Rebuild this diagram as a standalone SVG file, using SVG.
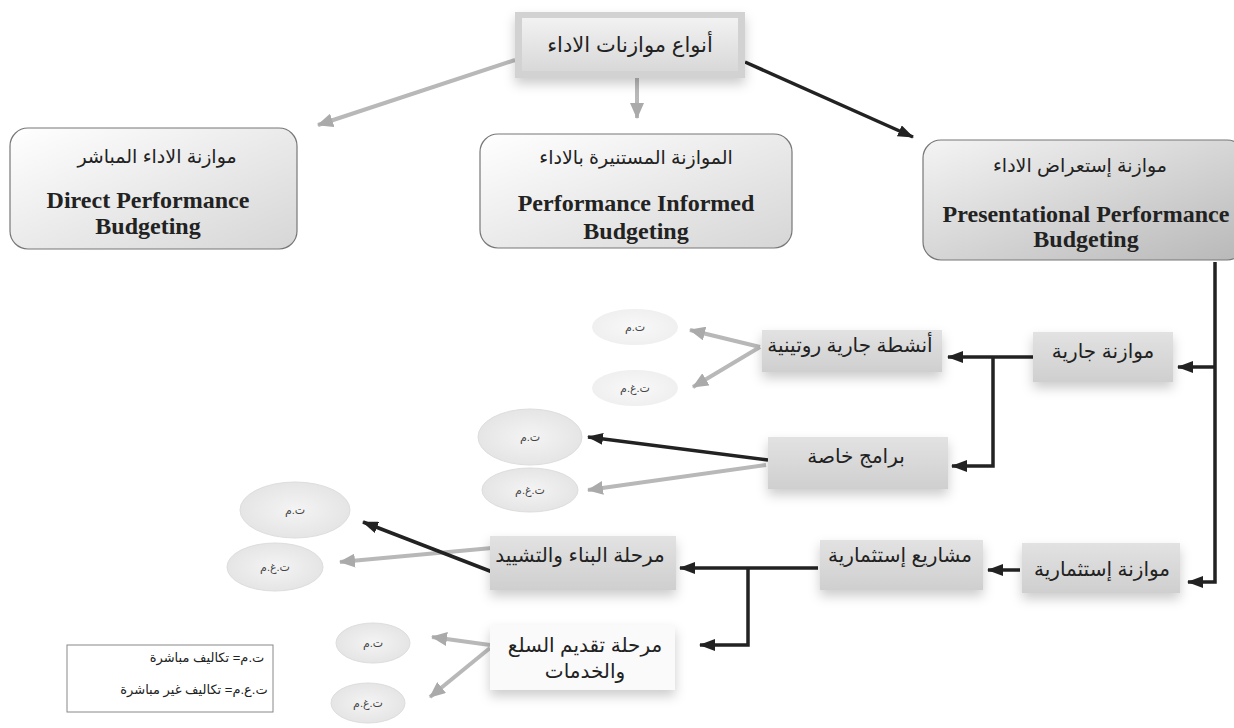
<svg xmlns="http://www.w3.org/2000/svg" width="1234" height="728" viewBox="0 0 1234 728">
<defs>
<style>
.ar{font-family:"Liberation Sans","DejaVu Sans",sans-serif;fill:#222;text-anchor:middle}
.en{font-family:"Liberation Serif",serif;font-weight:bold;fill:#222;text-anchor:middle;font-size:24px}
.big{fill:url(#gBig);stroke:#777;stroke-width:1.2}
.sub{fill:url(#gSub);filter:url(#sh)}
.ell{fill:url(#gEll);stroke:#ddd;stroke-width:1}
.et{font-family:"Liberation Sans","DejaVu Sans",sans-serif;fill:#444;font-size:11px;text-anchor:middle}
.dk{stroke:#222;stroke-width:3.5;fill:none}
.gy{stroke:#b8b8b8;stroke-width:4;fill:none}
</style>
<linearGradient id="gBig" x1="0" y1="0" x2="1" y2="1"><stop offset="0" stop-color="#ffffff"/><stop offset="1" stop-color="#d6d6d6"/></linearGradient>
<linearGradient id="gBigR" x1="0" y1="0" x2="1" y2="1"><stop offset="0" stop-color="#f4f4f4"/><stop offset="1" stop-color="#b8b8b8"/></linearGradient>
<linearGradient id="gSub" x1="0" y1="0" x2="0" y2="1"><stop offset="0" stop-color="#e2e2e2"/><stop offset="1" stop-color="#cfcfcf"/></linearGradient>
<linearGradient id="gTop" x1="0" y1="0" x2="0" y2="1"><stop offset="0" stop-color="#f2f2f2"/><stop offset="1" stop-color="#d8d8d8"/></linearGradient>
<radialGradient id="gEll" cx="0.5" cy="0.5" r="0.6"><stop offset="0" stop-color="#f4f4f4"/><stop offset="1" stop-color="#e2e2e2"/></radialGradient>
<filter id="sh" x="-20%" y="-20%" width="140%" height="160%"><feDropShadow dx="0" dy="6" stdDeviation="6" flood-color="#000" flood-opacity="0.2"/></filter>
<marker id="aD" markerUnits="userSpaceOnUse" markerWidth="16" markerHeight="12" refX="15" refY="6" orient="auto"><path d="M0,0 L16,6 L0,12 z" fill="#222"/></marker>
<marker id="aG" markerUnits="userSpaceOnUse" markerWidth="16" markerHeight="14" refX="15" refY="7" orient="auto"><path d="M0,0 L16,7 L0,14 z" fill="#aaa"/></marker>
</defs>
<rect width="1234" height="728" fill="#fff"/>

<g id="connectors">
<line class="gy" x1="515" y1="60" x2="318" y2="125" marker-end="url(#aG)"/>
<line class="gy" x1="637" y1="78" x2="637" y2="118" marker-end="url(#aG)"/>
<line class="dk" x1="745" y1="62" x2="913" y2="137" marker-end="url(#aD)"/>
<polyline class="dk" points="1215,262 1215,582 1188,582" marker-end="url(#aD)"/>
<line class="dk" x1="1215" y1="367" x2="1178" y2="367" marker-end="url(#aD)"/>
<line class="dk" x1="1033" y1="357" x2="948" y2="357" marker-end="url(#aD)"/>
<polyline class="dk" points="993,357 993,466 952,466" marker-end="url(#aD)"/>
<line class="dk" x1="1020" y1="570" x2="988" y2="570" marker-end="url(#aD)"/>
<line class="dk" x1="818" y1="568" x2="680" y2="568" marker-end="url(#aD)"/>
<polyline class="dk" points="748,568 748,645 700,645" marker-end="url(#aD)"/>
<line class="gy" x1="760" y1="347" x2="690" y2="330" marker-end="url(#aG)"/>
<line class="gy" x1="760" y1="347" x2="693" y2="387" marker-end="url(#aG)"/>
<line class="dk" x1="768" y1="460" x2="588" y2="437" marker-end="url(#aD)"/>
<line class="gy" x1="766" y1="465" x2="588" y2="490" marker-end="url(#aG)"/>
<line class="gy" x1="492" y1="548" x2="340" y2="562" marker-end="url(#aG)"/>
<line class="dk" x1="495" y1="573" x2="363" y2="522" marker-end="url(#aD)"/>
<line class="gy" x1="490" y1="645" x2="432" y2="637" marker-end="url(#aG)"/>
<line class="gy" x1="490" y1="648" x2="430" y2="697" marker-end="url(#aG)"/>
</g>

<g id="top">
<rect x="515" y="12" width="230" height="66" fill="#d2d2d2" filter="url(#sh)"/>
<rect x="522" y="18" width="216" height="53" fill="url(#gTop)"/>
<text class="ar" x="630" y="52" font-size="21">أنواع موازنات الاداء</text>
</g>

<g id="direct">
<rect class="big" x="10" y="128" width="287" height="121" rx="18"/>
<text class="ar" x="157" y="163" font-size="19">موازنة الاداء المباشر</text>
<text class="en" x="148" y="208" font-size="26">Direct Performance</text>
<text class="en" x="148" y="234" font-size="26">Budgeting</text>
</g>

<g id="informed">
<rect class="big" x="480" y="134" width="312" height="114" rx="18"/>
<text class="ar" x="636" y="164" font-size="19">الموازنة المستنيرة بالاداء</text>
<text class="en" x="636" y="211">Performance Informed</text>
<text class="en" x="636" y="239">Budgeting</text>
</g>

<g id="presentational">
<rect x="923" y="140" width="322" height="120" rx="18" fill="url(#gBigR)" stroke="#777" stroke-width="1.2"/>
<text class="ar" x="1080" y="172" font-size="19">موازنة إستعراض الاداء</text>
<text class="en" x="1086" y="222" font-size="23">Presentational Performance</text>
<text class="en" x="1086" y="247">Budgeting</text>
</g>

<g id="current">
<rect class="sub" x="1033" y="332" width="140" height="50"/>
<text class="ar" x="1103" y="358" font-size="20">موازنة جارية</text>
</g>
<g id="routine">
<rect class="sub" x="762" y="330" width="180" height="42"/>
<text class="ar" x="850" y="352" font-size="20">أنشطة جارية روتينية</text>
</g>
<g id="programs">
<rect class="sub" x="768" y="437" width="180" height="52"/>
<text class="ar" x="856" y="463" font-size="20">برامج خاصة</text>
</g>
<g id="investment">
<rect class="sub" x="1022" y="543" width="158" height="50"/>
<text class="ar" x="1102" y="576" font-size="20">موازنة إستثمارية</text>
</g>
<g id="projects">
<rect class="sub" x="820" y="540" width="163" height="50"/>
<text class="ar" x="900" y="562" font-size="20">مشاريع إستثمارية</text>
</g>
<g id="construction">
<rect class="sub" x="490" y="536" width="186" height="54"/>
<text class="ar" x="580" y="562" font-size="20">مرحلة البناء والتشييد</text>
</g>
<g id="delivery">
<rect x="490" y="625" width="185" height="65" fill="#fafafa" filter="url(#sh)"/>
<text class="ar" x="585" y="652" font-size="20">مرحلة تقديم السلع</text>
<text class="ar" x="585" y="678" font-size="20">والخدمات</text>
</g>

<g id="e1"><ellipse class="ell" cx="635" cy="327" rx="43" ry="18" style="stroke:none;opacity:.6"/><text class="et" x="635" y="331">ت.م</text></g>
<g id="e2"><ellipse class="ell" cx="635" cy="388" rx="43" ry="18" style="stroke:none;opacity:.6"/><text class="et" x="635" y="392">ت.غ.م</text></g>
<g id="e3"><ellipse class="ell" cx="530" cy="437" rx="52" ry="28"/><text class="et" x="530" y="441">ت.م</text></g>
<g id="e4"><ellipse class="ell" cx="530" cy="490" rx="48" ry="22"/><text class="et" x="530" y="494">ت.غ.م</text></g>
<g id="e5"><ellipse class="ell" cx="295" cy="510" rx="55" ry="28"/><text class="et" x="295" y="514">ت.م</text></g>
<g id="e6"><ellipse class="ell" cx="275" cy="567" rx="48" ry="24"/><text class="et" x="275" y="571">ت.غ.م</text></g>
<g id="e7"><ellipse class="ell" cx="373" cy="643" rx="37" ry="20"/><text class="et" x="373" y="647">ت.م</text></g>
<g id="e8"><ellipse class="ell" cx="368" cy="703" rx="37" ry="20"/><text class="et" x="368" y="707">ت.غ.م</text></g>

<g id="legend">
<rect x="67" y="645" width="206" height="67" fill="#fff" stroke="#888" stroke-width="1"/>
<text class="ar" x="207" y="662" font-size="13">ت.م= تكاليف مباشرة</text>
<text class="ar" x="194" y="694" font-size="13">ت.ع.م= تكاليف غير مباشرة</text>
</g>
</svg>
